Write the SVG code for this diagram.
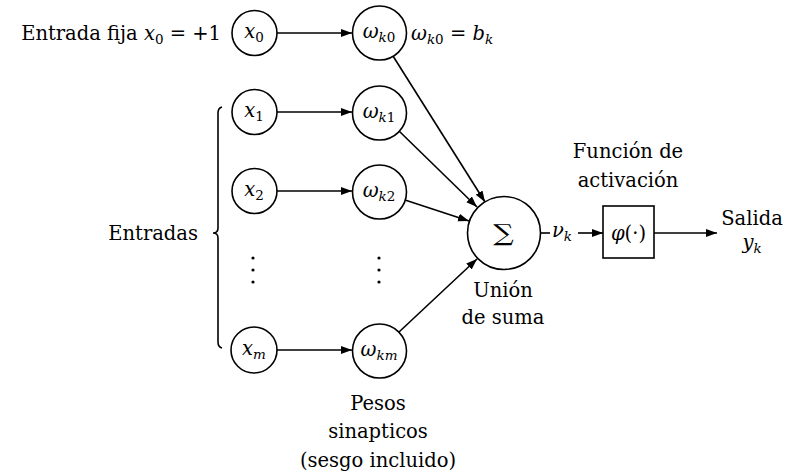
<svg xmlns="http://www.w3.org/2000/svg" width="786" height="474" viewBox="0 0 786 474">
<style>
.t{font-family:"DejaVu Serif","Liberation Serif",serif;font-size:19.5px;fill:#000}
.m{font-style:italic}
.s{font-size:13.5px}
.n{fill:#fff;stroke:#000;stroke-width:1.6}
.c{stroke:#000;stroke-width:1.6;fill:none}
</style>
<defs>
<marker id="ah" markerUnits="userSpaceOnUse" markerWidth="12" markerHeight="10" refX="11" refY="4" orient="auto">
<path d="M0,0 L11,4 L0,8 Z" fill="#000"/>
</marker>
</defs>
<rect width="786" height="474" fill="#fff"/>
<g id="connectors">
<line class="c" x1="277" y1="33" x2="352" y2="33" marker-end="url(#ah)"/>
<line class="c" x1="277" y1="112" x2="352" y2="112" marker-end="url(#ah)"/>
<line class="c" x1="277" y1="191" x2="352" y2="191" marker-end="url(#ah)"/>
<line class="c" x1="277" y1="350" x2="352" y2="350" marker-end="url(#ah)"/>
<line class="c" x1="393" y1="56" x2="485" y2="202" marker-end="url(#ah)"/>
<line class="c" x1="399" y1="131" x2="477" y2="207" marker-end="url(#ah)"/>
<line class="c" x1="405" y1="200" x2="469" y2="221" marker-end="url(#ah)"/>
<line class="c" x1="399" y1="332" x2="477" y2="259" marker-end="url(#ah)"/>
<line class="c" x1="540" y1="233" x2="550" y2="233"/>
<line class="c" x1="578" y1="233" x2="603" y2="233" marker-end="url(#ah)"/>
<line class="c" x1="654" y1="233" x2="717" y2="233" marker-end="url(#ah)"/>
<path class="c" d="M222,107 Q218,108 218,113 L218,228 Q218,233 213,233 Q218,233 218,238 L218,342 Q218,347 222,348"/>
</g>
<g id="bias-label">
<text class="t" x="221" y="40" text-anchor="end">Entrada fija <tspan class="m">x</tspan><tspan class="s" dy="4">0</tspan><tspan dy="-4"> = +1</tspan></text>
</g>
<g id="x0"><circle class="n" cx="254.5" cy="33" r="22.5"/><text class="t" x="254" y="38" text-anchor="middle"><tspan class="m">x</tspan><tspan class="s" dy="4">0</tspan></text></g>
<g id="x1"><circle class="n" cx="254.5" cy="112" r="22.5"/><text class="t" x="254" y="117" text-anchor="middle"><tspan class="m">x</tspan><tspan class="s" dy="4">1</tspan></text></g>
<g id="x2"><circle class="n" cx="254.5" cy="191" r="22.5"/><text class="t" x="254" y="196" text-anchor="middle"><tspan class="m">x</tspan><tspan class="s" dy="4">2</tspan></text></g>
<g id="xm"><circle class="n" cx="254" cy="350" r="23"/><text class="t" x="254" y="355" text-anchor="middle"><tspan class="m">x</tspan><tspan class="m s" dy="4">m</tspan></text></g>
<g id="w0"><circle class="n" cx="379.5" cy="33" r="27"/><text class="t" x="379" y="38" text-anchor="middle"><tspan class="m">ω</tspan><tspan class="s" dy="4"><tspan class="m">k</tspan>0</tspan></text></g>
<g id="w1"><circle class="n" cx="379.5" cy="113" r="27"/><text class="t" x="379" y="118" text-anchor="middle"><tspan class="m">ω</tspan><tspan class="s" dy="4"><tspan class="m">k</tspan>1</tspan></text></g>
<g id="w2"><circle class="n" cx="379.5" cy="192" r="27"/><text class="t" x="379" y="197" text-anchor="middle"><tspan class="m">ω</tspan><tspan class="s" dy="4"><tspan class="m">k</tspan>2</tspan></text></g>
<g id="wm"><circle class="n" cx="379.5" cy="351" r="27"/><text class="t" x="379" y="356" text-anchor="middle"><tspan class="m">ω</tspan><tspan class="m s" dy="4">km</tspan></text></g>
<g id="dots">
<circle cx="253" cy="258" r="1.6"/><circle cx="253" cy="270" r="1.6"/><circle cx="253" cy="282" r="1.6"/>
<circle cx="379" cy="258" r="1.6"/><circle cx="379" cy="270" r="1.6"/><circle cx="379" cy="282" r="1.6"/>
</g>
<g id="bias-eq"><text class="t" x="411" y="40"><tspan class="m">ω</tspan><tspan class="s" dy="4"><tspan class="m">k</tspan>0</tspan><tspan dy="-4"> = </tspan><tspan class="m">b</tspan><tspan class="m s" dy="4">k</tspan></text></g>
<g id="entradas"><text class="t" x="198" y="240" text-anchor="end">Entradas</text></g>
<g id="sum"><circle class="n" cx="504" cy="233" r="36.5"/><text class="t" transform="translate(503.5,241) scale(1.25,1)" x="0" y="0" text-anchor="middle" style="font-size:23px;font-weight:normal">∑</text>
<text class="t" x="503" y="297" text-anchor="middle">Unión</text><text class="t" x="503" y="324" text-anchor="middle">de suma</text></g>
<g id="nu"><text class="t" x="552" y="237"><tspan class="m">ν</tspan><tspan class="m s" dy="4">k</tspan></text></g>
<g id="act"><rect class="n" x="603" y="206" width="51" height="52"/><text class="t" x="628.5" y="240" text-anchor="middle"><tspan class="m">φ</tspan>(·)</text>
<text class="t" x="628" y="158" text-anchor="middle">Función de</text><text class="t" x="628" y="187" text-anchor="middle">activación</text></g>
<g id="out"><text class="t" x="752" y="225" text-anchor="middle">Salida</text><text class="t" x="752" y="249" text-anchor="middle"><tspan class="m">y</tspan><tspan class="m s" dy="4">k</tspan></text></g>
<g id="pesos"><text class="t" x="378" y="410" text-anchor="middle">Pesos</text><text class="t" x="378" y="438" text-anchor="middle">sinapticos</text><text class="t" x="378" y="467" text-anchor="middle">(sesgo incluido)</text></g>
</svg>
